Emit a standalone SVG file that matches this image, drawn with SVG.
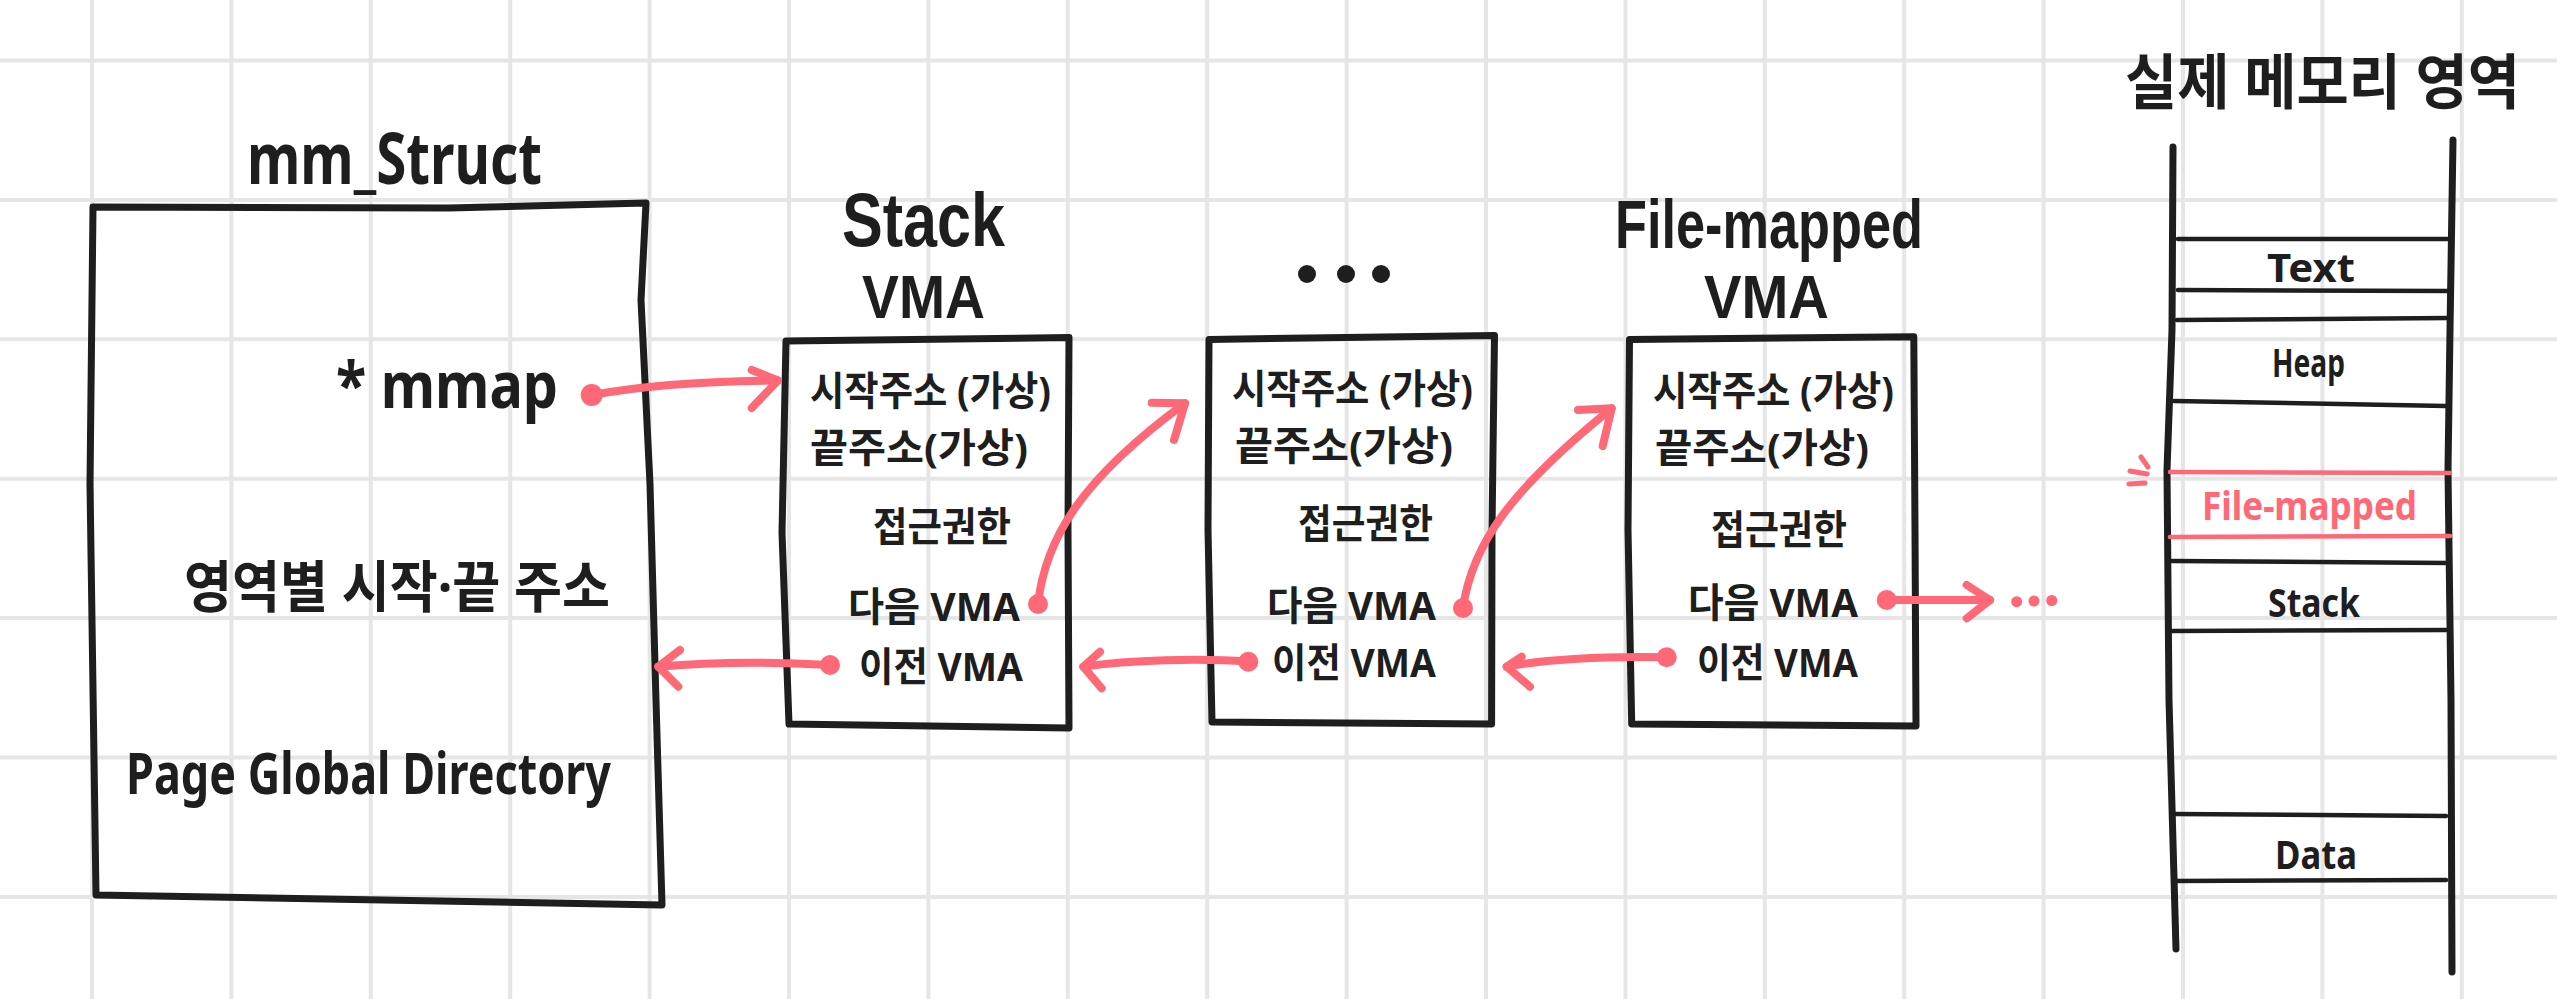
<svg xmlns="http://www.w3.org/2000/svg" width="2557" height="999" viewBox="0 0 2557 999">
<style>
.grid line{stroke:#e6e6e6;stroke-width:4}
.ink{fill:none;stroke:#1e1e1e;stroke-width:7;stroke-linecap:round;stroke-linejoin:round}
.thin{fill:none;stroke:#1e1e1e;stroke-width:4.5;stroke-linecap:round}
.rthin{fill:none;stroke:#ff6876;stroke-width:4.5;stroke-linecap:round}
.red{fill:none;stroke:#ff6876;stroke-width:8;stroke-linecap:round;stroke-linejoin:round}
.dot{fill:#ff6876}
text{font-family:"Noto Sans","Noto Sans CJK KR",sans-serif;fill:#1e1e1e;font-weight:700}
.lt{font-family:"Liberation Sans","Noto Sans",sans-serif}
.t{font-size:72px}
.b{font-size:40px}
.s{font-size:40px}
.m{font-size:40px}
.rt{fill:#ff6876}
</style>
<rect width="2557" height="999" fill="#ffffff"/>
<g class="grid">
<line x1="92" y1="0" x2="92" y2="999"/><line x1="231.4" y1="0" x2="231.4" y2="999"/><line x1="370.8" y1="0" x2="370.8" y2="999"/><line x1="510.2" y1="0" x2="510.2" y2="999"/><line x1="649.6" y1="0" x2="649.6" y2="999"/><line x1="789" y1="0" x2="789" y2="999"/><line x1="928.4" y1="0" x2="928.4" y2="999"/><line x1="1067.8" y1="0" x2="1067.8" y2="999"/><line x1="1207.2" y1="0" x2="1207.2" y2="999"/><line x1="1346.6" y1="0" x2="1346.6" y2="999"/><line x1="1486" y1="0" x2="1486" y2="999"/><line x1="1625.4" y1="0" x2="1625.4" y2="999"/><line x1="1764.8" y1="0" x2="1764.8" y2="999"/><line x1="1904.2" y1="0" x2="1904.2" y2="999"/><line x1="2043.6" y1="0" x2="2043.6" y2="999"/><line x1="2183" y1="0" x2="2183" y2="999"/><line x1="2322.4" y1="0" x2="2322.4" y2="999"/><line x1="2461.8" y1="0" x2="2461.8" y2="999"/>
<line x1="0" y1="60.5" x2="2557" y2="60.5"/><line x1="0" y1="199.9" x2="2557" y2="199.9"/><line x1="0" y1="339.3" x2="2557" y2="339.3"/><line x1="0" y1="478.7" x2="2557" y2="478.7"/><line x1="0" y1="618.1" x2="2557" y2="618.1"/><line x1="0" y1="757.5" x2="2557" y2="757.5"/><line x1="0" y1="896.9" x2="2557" y2="896.9"/>
</g>

<g id="mm_struct">
<text class="t" x="394.5" y="184" text-anchor="middle" textLength="295" lengthAdjust="spacingAndGlyphs">mm_Struct</text>
<path class="ink" d="M93,207 L449,208 L646,203 L641,300 L650,484 L656,701 L662,905 L96,895 L90,484 Z"/>
<text x="336" y="408" font-size="64" textLength="222" lengthAdjust="spacingAndGlyphs">* mmap</text>
<text x="184" y="607" font-size="56" textLength="426" lengthAdjust="spacingAndGlyphs">영역별 시작·끝 주소</text>
<text x="126" y="794" font-size="58" textLength="485" lengthAdjust="spacingAndGlyphs">Page Global Directory</text>
</g>

<g id="stack_vma">
<text class="lt" x="923.5" y="246" font-size="76" text-anchor="middle" textLength="163" lengthAdjust="spacingAndGlyphs">Stack</text>
<text class="lt" x="923.5" y="318" font-size="62" text-anchor="middle" textLength="123" lengthAdjust="spacingAndGlyphs">VMA</text>
<path class="ink" d="M786,341 L1069,337.5 L1068,530 L1069,728 L789,724 L782,533 Z"/>
<text class="b" x="810" y="405" textLength="241" lengthAdjust="spacingAndGlyphs">시작주소 (가상)</text>
<text class="b" x="810" y="462" textLength="218" lengthAdjust="spacingAndGlyphs">끝주소(가상)</text>
<text class="b" x="873" y="541" font-size="44" textLength="138" lengthAdjust="spacingAndGlyphs">접근권한</text>
<text class="s" x="848" y="621" textLength="172" lengthAdjust="spacingAndGlyphs">다음 VMA</text>
<text class="s" x="859" y="681" textLength="164" lengthAdjust="spacingAndGlyphs">이전 VMA</text>
</g>

<g id="middle_vma">
<circle cx="1307" cy="274" r="9" fill="#1e1e1e"/><circle cx="1346" cy="274" r="9" fill="#1e1e1e"/><circle cx="1381" cy="274" r="9" fill="#1e1e1e"/>
<path class="ink" d="M1209,339.4 L1494.5,335.6 L1492,530 L1491.6,724 L1212,722 L1208,530 Z"/>
<text class="b" x="1232" y="403" textLength="241" lengthAdjust="spacingAndGlyphs">시작주소 (가상)</text>
<text class="b" x="1235" y="460" textLength="218" lengthAdjust="spacingAndGlyphs">끝주소(가상)</text>
<text class="b" x="1298" y="538" font-size="44" textLength="135" lengthAdjust="spacingAndGlyphs">접근권한</text>
<text class="s" x="1267" y="620" textLength="169" lengthAdjust="spacingAndGlyphs">다음 VMA</text>
<text class="s" x="1272" y="677" textLength="164" lengthAdjust="spacingAndGlyphs">이전 VMA</text>
</g>

<g id="file_mapped_vma">
<text class="lt" x="1769" y="248" font-size="68" text-anchor="middle" textLength="308" lengthAdjust="spacingAndGlyphs">File-mapped</text>
<text class="lt" x="1766.5" y="318" font-size="62" text-anchor="middle" textLength="125" lengthAdjust="spacingAndGlyphs">VMA</text>
<path class="ink" d="M1629.5,339.4 L1913.8,336.8 L1915,530 L1916,726 L1631.7,724 L1628,530 Z"/>
<text class="b" x="1653" y="405" textLength="241" lengthAdjust="spacingAndGlyphs">시작주소 (가상)</text>
<text class="b" x="1655" y="462" textLength="214" lengthAdjust="spacingAndGlyphs">끝주소(가상)</text>
<text class="b" x="1711" y="544" font-size="44" textLength="136" lengthAdjust="spacingAndGlyphs">접근권한</text>
<text class="s" x="1688" y="617" textLength="170" lengthAdjust="spacingAndGlyphs">다음 VMA</text>
<text class="s" x="1697" y="677" textLength="161" lengthAdjust="spacingAndGlyphs">이전 VMA</text>
</g>

<g id="physical_memory">
<text x="2322.5" y="104" font-size="60" text-anchor="middle" textLength="395" lengthAdjust="spacingAndGlyphs">실제 메모리 영역</text>
<path class="ink" d="M2173,147 L2172,330 L2167,470 L2169,700 L2176,949"/>
<path class="ink" d="M2453,140 L2450,330 L2448,470 L2451,700 L2452,972"/>
<path class="thin" d="M2178,239 L2448,239"/>
<path class="thin" d="M2178,290 L2450,291"/>
<path class="thin" d="M2177,320 L2450,318"/>
<path class="thin" d="M2174,401 L2446,406"/>
<path class="rthin" d="M2170,472 L2450,473"/>
<path class="rthin" d="M2170,537 L2450,536"/>
<path class="thin" d="M2172,561 L2448,563"/>
<path class="thin" d="M2172,631 L2446,630"/>
<path class="thin" d="M2174,814 L2446,816"/>
<path class="thin" d="M2175,881 L2446,880"/>
<text class="m" x="2311" y="282" text-anchor="middle" textLength="88" lengthAdjust="spacingAndGlyphs">Text</text>
<text class="m" x="2308.5" y="377" text-anchor="middle" textLength="73" lengthAdjust="spacingAndGlyphs">Heap</text>
<text class="m rt" x="2309.5" y="520" text-anchor="middle" textLength="215" lengthAdjust="spacingAndGlyphs">File-mapped</text>
<text class="m" x="2314" y="617" text-anchor="middle" textLength="92" lengthAdjust="spacingAndGlyphs">Stack</text>
<text class="m" x="2316" y="869" text-anchor="middle" textLength="82" lengthAdjust="spacingAndGlyphs">Data</text>
<path class="red" style="stroke-width:5" d="M2141,457 L2148,467 M2130,471 L2147,474 M2129,484 L2145,483"/>
</g>

<g id="connectors">
<circle class="dot" cx="591.7" cy="395" r="11"/>
<path class="red" d="M591.7,395 C640,386 700,381 778,380.5"/>
<path class="red" d="M751.7,370 L778,380.5 L751.7,408"/>

<circle class="dot" cx="1038" cy="604" r="10"/>
<path class="red" d="M1038,604 C1045,540 1080,480 1185,403.3"/>
<path class="red" d="M1151.7,402.7 L1185,403.3 L1174,440"/>

<circle class="dot" cx="1463" cy="608" r="10"/>
<path class="red" d="M1463,608 C1472,545 1510,490 1611.7,408.3"/>
<path class="red" d="M1578,410 L1611.7,408.3 L1602.7,446"/>

<circle class="dot" cx="1886.7" cy="600" r="10"/>
<path class="red" d="M1886.7,600 L1990,600"/>
<path class="red" d="M1966.7,585 L1990,600 L1966.7,618.3"/>
<circle class="dot" cx="2016.7" cy="601.7" r="5.5"/><circle class="dot" cx="2034" cy="601" r="5.5"/><circle class="dot" cx="2051.7" cy="600.5" r="5.5"/>

<circle class="dot" cx="830" cy="665" r="10"/>
<path class="red" d="M830,665 C760,661 700,663 658.3,666.7"/>
<path class="red" d="M680,650 L658.3,666.7 L678.3,686.7"/>

<circle class="dot" cx="1248.3" cy="661.7" r="10"/>
<path class="red" d="M1248.3,661.7 C1200,658 1130,660 1083.3,666.7"/>
<path class="red" d="M1100,651.7 L1083.3,666.7 L1101.7,688.3"/>

<circle class="dot" cx="1666.7" cy="657.3" r="10"/>
<path class="red" d="M1666.7,657.3 C1600,656 1540,660 1506.7,666.7"/>
<path class="red" d="M1521.7,656.7 L1506.7,666.7 L1530,686.7"/>
</g>
</svg>
